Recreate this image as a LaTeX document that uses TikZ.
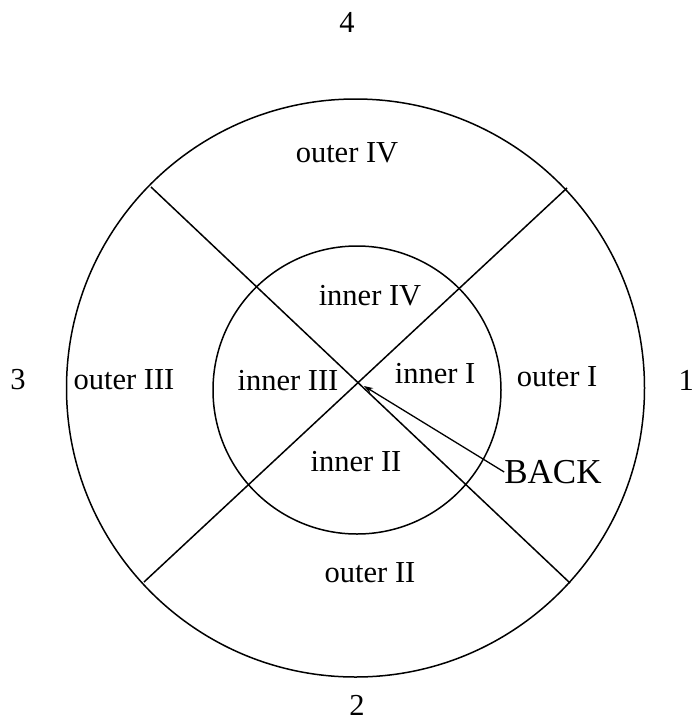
\documentclass[tikz,border=0pt]{standalone}
\usepackage{fontspec}
\setmainfont{Liberation Serif}
\usetikzlibrary{arrows.meta}
\begin{document}
\begin{tikzpicture}[x=1pt,y=-1pt,
  lbl/.style={inner sep=0pt,font=\fontsize{30.5}{34}\selectfont},
  ring/.style={line width=1.5pt},
  ptr/.style={line width=1.3pt,-{Stealth[length=9pt,width=6pt,open]}}]
\useasboundingbox (0,0) rectangle (696,721);
\coordinate (oc) at (355.5,388);
\coordinate (ic) at (357,390);
\draw[ring] (oc) circle (289);
\draw[ring] (ic) circle (144);
\coordinate (tl) at (151,187);
\coordinate (br) at (570,583);
\coordinate (bl) at (144,582);
\coordinate (tr) at (567,188);
\draw[ring] (tl) -- (br);
\draw[ring] (bl) -- (tr);
\coordinate (hub) at (364,386);
\node[lbl] (n4) at (347,22) {4};
\node[lbl] (n3) at (18,380) {3};
\node[lbl,anchor=east] (n1) at (694,380) {1};
\node[lbl] (n2) at (357,705) {2};
\node[lbl] (o4) at (347,153) {outer IV};
\node[lbl] (o3) at (124,380) {outer III};
\node[lbl] (o1) at (557,377) {outer I};
\node[lbl] (o2) at (370,573) {outer II};
\node[lbl] (i4) at (370,296) {inner IV};
\node[lbl] (i3) at (288,381) {inner III};
\node[lbl] (i1) at (435,374) {inner I};
\node[lbl] (i2) at (356,462) {inner II};
\node[lbl,font=\fontsize{35}{38}\selectfont] (back) at (553,472) {BACK};
\draw[ptr] (back.west) -- (hub);
\end{tikzpicture}
\end{document}
